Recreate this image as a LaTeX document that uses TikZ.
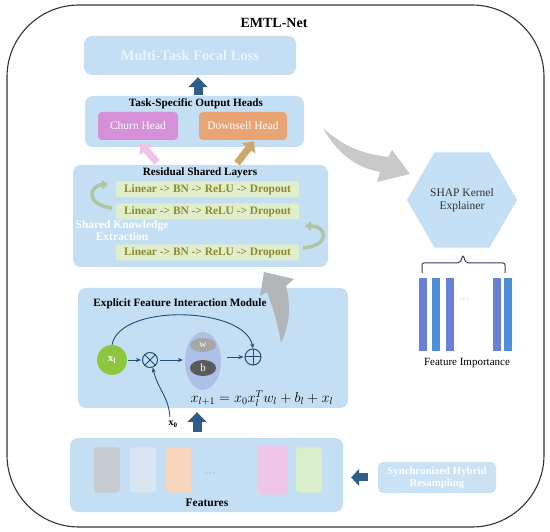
\documentclass[tikz,border=0pt]{standalone}
\usepackage{fontspec}
\setmainfont{Liberation Serif}
\usetikzlibrary{arrows.meta,shapes.geometric,calc}
\definecolor{panelblue}{HTML}{C4DFF3}
\definecolor{paletext}{HTML}{EAF4FB}
\definecolor{arrowblue}{HTML}{2F5D8A}
\definecolor{rowgreen}{HTML}{E1EECC}
\definecolor{olivetext}{HTML}{8B8A30}
\definecolor{churnc}{HTML}{D590D8}
\definecolor{downc}{HTML}{E8A474}
\definecolor{pinkarr}{HTML}{EFC3E6}
\definecolor{tanarr}{HTML}{CDA86C}
\definecolor{curvec}{HTML}{AFC4A2}
\definecolor{grayarr}{HTML}{C9C9C9}
\definecolor{grayarrb}{HTML}{B3B6B8}
\definecolor{xlgreen}{HTML}{8CC63F}
\definecolor{ellc}{HTML}{A9B8E6}
\definecolor{wgray}{HTML}{A6A6A6}
\definecolor{bgray}{HTML}{5B5B5B}
\definecolor{opblue}{HTML}{1F4E79}
\definecolor{hexc}{HTML}{C5E0F4}
\definecolor{barA}{HTML}{6A7FD6}
\definecolor{barB}{HTML}{4E8FD8}
\definecolor{fA}{HTML}{C5CBCE}
\definecolor{fB}{HTML}{D8E5F3}
\definecolor{fC}{HTML}{F7D6BD}
\definecolor{fD}{HTML}{EFC5EA}
\definecolor{fE}{HTML}{D9EFCC}
\definecolor{bracec}{HTML}{3C3C5A}
\begin{document}
\begin{tikzpicture}[x=1pt,y=-1pt,
  panel/.style={fill=panelblue, rounded corners=8pt, draw=none, inner sep=0pt},
  ttl/.style={font=\bfseries\fontsize{11.2}{12}\selectfont, text=black, inner sep=0pt},
  rowbox/.style={fill=rowgreen, draw=none, rounded corners=2pt, minimum width=183pt, minimum height=16pt, inner sep=0pt, font=\bfseries\fontsize{11.4}{12}\selectfont, text=olivetext},
  headbox/.style={rounded corners=4pt, minimum height=28pt, inner sep=0pt, text=white, font=\fontsize{11.5}{12}\selectfont},
  bluearr/.style={draw=arrowblue, line width=9pt, -{Triangle[length=10pt,width=19pt]}},
  blockarr/.style={line width=7pt, -{Triangle[length=9pt,width=16pt]}},
  curvarr/.style={draw=curvec, line width=3.5pt, -{Triangle[length=6pt,width=9pt]}},
  thin/.style={draw=opblue, line width=0.9pt, -{Stealth[length=5pt,width=4pt]}},
  opnode/.style={circle, draw=opblue, line width=1pt, inner sep=0pt},
  featr/.style={rounded corners=3pt, minimum width=26pt, minimum height=45pt, inner sep=0pt, draw=none},
  bar/.style={minimum width=8pt, minimum height=73pt, inner sep=0pt, draw=none}
]
\useasboundingbox (0,0) rectangle (550,532);
% outer frame
\draw[draw=black!80, line width=1.1pt, rounded corners=72pt] (7,5) rectangle (544,527);
\node[font=\bfseries\fontsize{14}{16}\selectfont] (title) at (274,23) {EMTL-Net};

% loss
\node[panel, minimum width=212pt, minimum height=39pt, text=paletext, font=\bfseries\fontsize{14.5}{16}\selectfont] (loss) at (190,55.5) {Multi-Task Focal Loss};

% heads
\node[panel, minimum width=219pt, minimum height=51pt] (heads) at (194.5,121.5) {};
\node[ttl] (headsT) at (196,104) {Task-Specific Output Heads};
\node[headbox, fill=churnc, minimum width=80pt] (churn) at (138,126) {Churn Head};
\node[headbox, fill=downc, minimum width=88pt] (down) at (243,126) {Downsell Head};
\draw[bluearr, shorten <=1pt, shorten >=2pt] ([xshift=3.5pt]heads.north) -- ([xshift=3.5pt]heads.north |- loss.south);

% residual
\node[panel, minimum width=255pt, minimum height=102pt] (resid) at (200.5,216) {};
\node[ttl] (residT) at (200,173) {Residual Shared Layers};
\node[rowbox] (row1) at (207.5,189.5) {Linear -> BN -> ReLU -> Dropout};
\node[rowbox] (row2) at (207.5,211.5) {Linear -> BN -> ReLU -> Dropout};
\node[rowbox] (row3) at (207.5,252.5) {Linear -> BN -> ReLU -> Dropout};
\node[font=\bfseries\fontsize{11.5}{12}\selectfont, text=white, align=center, inner sep=0pt] (ske) at (122,231) {Shared Knowledge\\Extraction};
\draw[curvarr] (112,208) .. controls (86,205) and (88,186) .. (108,184);
\draw[curvarr] (303,248) .. controls (330,246) and (328,226) .. (305,226);

% arrows to heads
\coordinate (pA) at ($(churn.south)+(19,22)$);
\coordinate (pB) at ($(churn.south)+(2,3)$);
\draw[blockarr, draw=pinkarr] (pA) -- (pB);
\coordinate (dA) at ($(down.south)+(-6,23)$);
\coordinate (dB) at ($(down.south)+(11,1)$);
\draw[blockarr, draw=tanarr] (dA) -- (dB);

% EFI module
\node[panel, minimum width=270pt, minimum height=120pt] (efi) at (213,348) {};
\node[ttl] (efiT) at (180,304) {Explicit Feature Interaction Module};
\node[circle, fill=xlgreen, minimum size=30pt, inner sep=0pt, text=white, font=\bfseries\fontsize{11}{12}\selectfont] (xl) at (112,360) {x\textsubscript{l}};
\node[opnode, minimum size=15pt, path picture={\draw[opblue, line width=1pt] (path picture bounding box.north west) -- (path picture bounding box.south east) (path picture bounding box.north east) -- (path picture bounding box.south west);}] (otimes) at (150,360) {};
\node[ellipse, fill=ellc, fill opacity=0.8, minimum width=36pt, minimum height=58pt, inner sep=0pt] (ell) at (203,361) {};
\node[ellipse, fill=wgray, minimum width=26pt, minimum height=14pt, inner sep=0pt, text=white, font=\fontsize{10}{11}\selectfont] (w) at (203,345) {w};
\node[ellipse, fill=bgray, minimum width=26pt, minimum height=16pt, inner sep=0pt, text=white, font=\fontsize{11}{12}\selectfont] (b) at (203,368) {b};
\node[opnode, minimum size=16pt, path picture={\draw[opblue, line width=1pt] (path picture bounding box.north) -- (path picture bounding box.south) (path picture bounding box.west) -- (path picture bounding box.east);}] (oplus) at (253,357) {};
\draw[thin, shorten <=1pt, shorten >=1pt] (xl.east) -- (otimes.west);
\draw[thin, shorten <=2pt, shorten >=2pt] (otimes.east) -- (ell.west |- otimes.east);
\draw[thin, shorten <=6pt, shorten >=1pt] (ell.east |- oplus.west) -- (oplus.west);
\draw[thin] (xl.north) .. controls ($(xl.north)+(8,-42)$) and ($(oplus.north)+(-8,-42)$) .. (oplus.north);
\node[font=\bfseries\fontsize{10}{11}\selectfont, inner sep=0pt] (x0) at (173,424) {x\textsubscript{0}};
\coordinate (x0top) at (170,417);
\draw[thin] (x0top) .. controls (168,395) and (158,390) .. (otimes.-70);
\node[font=\fontsize{14}{16}\selectfont, inner sep=0pt] (formula) at (262,398.5) {$x_{l+1} = x_0 x_l^T w_l + b_l + x_l$};

% features
\node[panel, minimum width=273pt, minimum height=74pt] (feat) at (206.5,475) {};
\node[ttl, font=\bfseries\fontsize{11.5}{12}\selectfont] (featT) at (207,503) {Features};
\node[featr, fill=fA] (f1) at (107,470) {};
\node[featr, fill=fB] (f2) at (143,470) {};
\node[featr, fill=fC, minimum width=25pt] (f3) at (178.5,470) {};
\node[font=\fontsize{8}{9}\selectfont, text=black!70, inner sep=0pt] (fdots) at (210,474) {$\cdots$};
\node[featr, fill=fD, minimum width=30pt, minimum height=49pt] (f4) at (272,470) {};
\node[featr, fill=fE] (f5) at (309,470) {};
\draw[bluearr, shorten <=6pt, shorten >=4pt] ([xshift=-9.5pt]feat.north) -- ([xshift=-9.5pt]feat.north |- efi.south);

% resampling
\node[panel, rounded corners=5pt, fill=panelblue!90!white, minimum width=118pt, minimum height=31pt, text=white, align=center, font=\bfseries\fontsize{10.8}{12}\selectfont] (sync) at (437,477.5) {Synchronized Hybrid\\Resampling};
\draw[draw=arrowblue, line width=8pt, -{Triangle[length=8pt,width=17pt]}, shorten <=10pt, shorten >=8pt] (sync.west) -- (feat.east |- sync.west);

% gray arrows
\fill[grayarr] (323,128) .. controls (345,148) and (365,154) .. (388,157) -- (392,150) -- (410,174) -- (377,182) -- (380,172) .. controls (358,168) and (338,155) .. (323,128) -- cycle;
\fill[grayarrb] (281,343) .. controls (277,320) and (272,305) .. (267,292) -- (260,296) -- (264,272) -- (294,279) -- (286,286) .. controls (291,305) and (290,325) .. (281,343) -- cycle;

% SHAP
\node[regular polygon, regular polygon sides=6, minimum size=110pt, inner sep=0pt, fill=hexc, align=center, font=\fontsize{11.5}{13}\selectfont, text=black!80] (shap) at (462,200) {SHAP Kernel\\Explainer};
\draw[draw=bracec, line width=1pt, rounded corners=2pt] (422,273) -- (422,263) -- (460,263) -- (463,255) -- (466,263) -- (505,263) -- (505,273);
\node[bar, fill=barA] (b1) at (423,314.5) {};
\node[bar, fill=barB] (b2) at (436,314.5) {};
\node[bar, fill=barA] (b3) at (449.5,314.5) {};
\node[font=\fontsize{8}{9}\selectfont, text=black!60, inner sep=0pt] (bdots) at (464,300) {$\cdots$};
\node[bar, fill=barA] (b4) at (496.5,314.5) {};
\node[bar, fill=barB] (b5) at (508,314.5) {};
\node[font=\fontsize{11}{12}\selectfont, inner sep=0pt] (fimp) at (467,363) {Feature Importance};
\end{tikzpicture}
\end{document}
